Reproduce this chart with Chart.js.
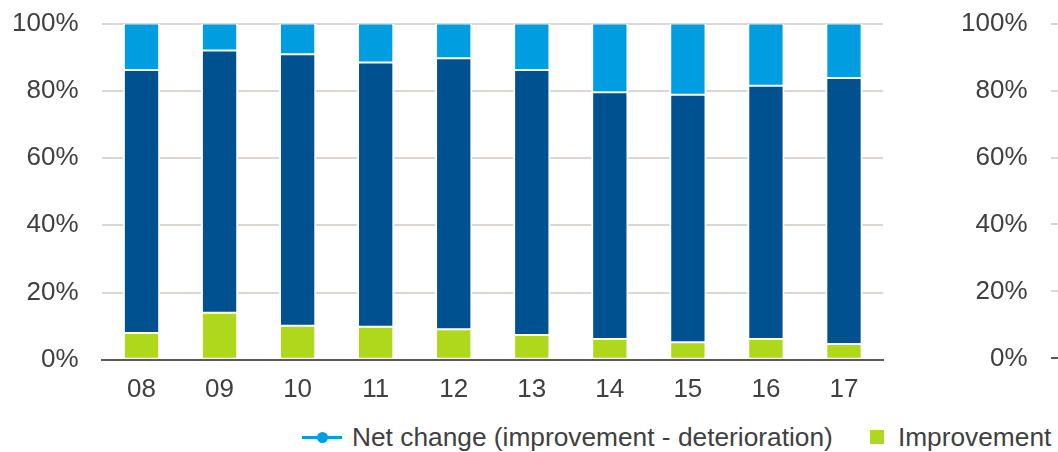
<!DOCTYPE html>
<html>
<head>
<meta charset="utf-8">
<script src="https://cdn.jsdelivr.net/npm/chart.js@4"></script>
<style>
    html, body { margin: 0; padding: 0; background: #fff; }
    body { width: 1058px; height: 452px; position: relative; overflow: hidden;
           font-family: "Liberation Sans", Arial, sans-serif; color: #404040; }
    #left-wrap { position: absolute; left: -25px; top: -16px; width: 925px; height: 435px; }
    #right-wrap { position: absolute; left: 915px; top: -16px; width: 500px; height: 414px; }
    #legend { position: absolute; left: 302px; top: 422px; height: 30px; display: flex;
              align-items: center; font-size: 26.3px; line-height: 30px; white-space: nowrap; }
    .line-mark { position: relative; width: 40px; height: 3px; background: #009ee0; margin-right: 10px; }
    .line-mark::after { content: ''; position: absolute; left: 15px; top: -4px; width: 11px; height: 11px;
                        border-radius: 50%; background: #009ee0; }
    .sq-mark { width: 14px; height: 14px; background: #afd71b; margin-left: 37px; margin-right: 14px; }
</style>
</head>
<body>
<div id="left-wrap"><canvas id="left-chart" width="925" height="435"></canvas></div>
<div id="right-wrap"><canvas id="right-chart" width="500" height="414"></canvas></div>
<div id="legend">
    <span class="line-mark"></span><span>Net change (improvement - deterioration)</span>
    <span class="sq-mark"></span><span>Improvement</span>
</div>
<script>
// --- DATA ---
const years = ['08', '09', '10', '11', '12', '13', '14', '15', '16', '17'];
const improvement = [8.0, 14.0, 10.1, 9.8, 9.1, 7.4, 6.2, 5.2, 6.2, 4.7];
const noChange = [78.2, 78.0, 80.8, 78.6, 80.6, 78.8, 73.4, 73.6, 75.3, 79.1];
const deterioration = [13.8, 8.0, 9.1, 11.6, 10.3, 13.8, 20.4, 21.2, 18.5, 16.2];
const yTicks = [0, 20, 40, 60, 80, 100];

const textColor = '#404040';
const gridColor = '#dad6d3';
const axisColor = '#595959';
const tickFont = { family: '"Liberation Sans", Arial, sans-serif', size: 26 };

function yScale() {
    return {
        stacked: true,
        min: 0,
        max: 100,
        afterBuildTicks: (scale) => {
            scale.ticks = yTicks.map((v) => ({ value: v }));
        },
        ticks: {
            color: textColor,
            font: tickFont,
            padding: 24,
            callback: (v) => v + '%',
        },
        grid: {
            color: (ctx) => (ctx.tick && ctx.tick.value === 0 ? axisColor : gridColor),
            lineWidth: 2,
            drawTicks: false,
        },
        border: { display: false },
    };
}

function xScale(show) {
    return {
        display: show,
        stacked: true,
        ticks: { color: textColor, font: tickFont, padding: 14 },
        grid: { display: false, drawTicks: false },
        border: { display: true, color: axisColor, width: 2 },
    };
}

const barStyle = {
    borderColor: '#ffffff',
    borderWidth: { top: 1, bottom: 1, left: 2, right: 2 },
    borderSkipped: false,
    barPercentage: 0.478,
    categoryPercentage: 1.0,
};

new Chart(document.getElementById('left-chart'), {
    type: 'bar',
    data: {
        labels: years,
        datasets: [
            { label: 'Improvement', data: improvement, backgroundColor: '#afd71b', ...barStyle },
            { label: 'No change', data: noChange, backgroundColor: '#00518f', ...barStyle },
            { label: 'Deterioration', data: deterioration, backgroundColor: '#009ee0', ...barStyle },
        ],
    },
    options: {
        responsive: false,
        animation: false,
        layout: { padding: { left: 13, right: 17, top: 0, bottom: 0 } },
        scales: { x: xScale(true), y: yScale() },
        plugins: { legend: { display: false }, tooltip: { enabled: false } },
    },
});

// second panel, only its axis is inside the frame
new Chart(document.getElementById('right-chart'), {
    type: 'bar',
    data: { labels: years, datasets: [] },
    options: {
        responsive: false,
        animation: false,
        layout: { padding: { left: 22, right: 17, top: 0, bottom: 0 } },
        scales: { x: xScale(false), y: yScale() },
        plugins: { legend: { display: false }, tooltip: { enabled: false } },
    },
});
</script>
</body>
</html>
